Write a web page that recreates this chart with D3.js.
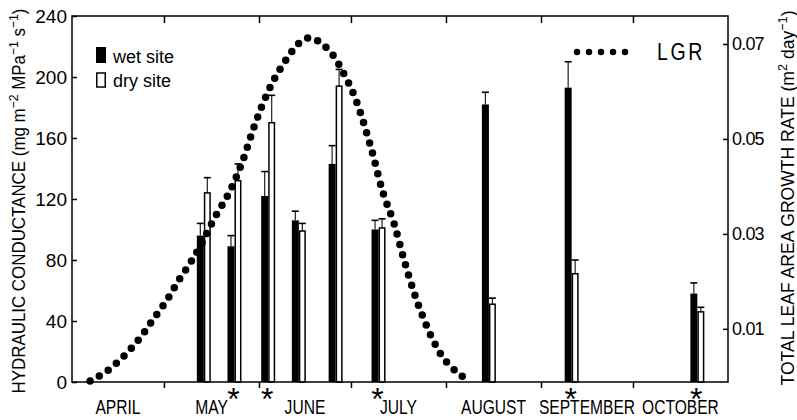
<!DOCTYPE html>
<html>
<head>
<meta charset="utf-8">
<script src="https://cdn.jsdelivr.net/npm/d3@7"></script>
<style>
  body { margin: 0; background: #fff; }
  svg { display: block; }
</style>
</head>
<body>
<script>
// ---------------- data ----------------
const months = ["APRIL", "MAY", "JUNE", "JULY", "AUGUST", "SEPTEMBER", "OCTOBER"];
const monthStarts = ["2000-04-01", "2000-05-01", "2000-06-01", "2000-07-01", "2000-08-01", "2000-09-01", "2000-10-01", "2000-11-01"];

const sampleDates = ["2000-05-14", "2000-05-24", "2000-06-04", "2000-06-14", "2000-06-26", "2000-07-10", "2000-08-15", "2000-09-11", "2000-10-22"];
const wetValues = [96, 89, 122, 106, 143, 100, 182, 193, 58];
const wetErrors = [8, 7, 16, 6, 12, 6, 8, 17, 7];
const dryValues = [124, 132, 170, 99, 194, 101, 51, 71, 46];
const dryErrors = [10, 11, 18, 5, 11, 6, 4, 9, 3];
const significant = [false, true, true, false, false, true, false, true, true];

const leftTicks = [0, 40, 80, 120, 160, 200, 240];
const rightTicks = [0.01, 0.03, 0.05, 0.07];

// LGR curve: days after 1 April, total leaf area growth rate (m2 day-1)
const lgrDays = [5.9, 11.4, 17.0, 22.2, 26.4, 31.0, 34.9, 38.8, 42.4, 46.3, 51.5, 55.5, 59.7, 63.9, 67.5, 71.8, 74.1, 77.0,
                 80.3, 85.1, 88.7, 91.7, 94.0, 97.9, 101.5, 105.0, 108.6, 112.9, 118.1, 121.7, 125.9, 128.8];
const lgrValues = [-0.0010, 0.0011, 0.0043, 0.0081, 0.0119, 0.0161, 0.0203, 0.0241, 0.0281, 0.0331, 0.0390, 0.0451, 0.0531, 0.0599, 0.0643, 0.0685, 0.0702, 0.0713,
                   0.0706, 0.0677, 0.0637, 0.0597, 0.0557, 0.0473, 0.0386, 0.0323, 0.0239, 0.0152, 0.0072, 0.0034, 0.0007, -0.0006];

// ---------------- layout ----------------
const W = 797, H = 420;
const X0 = 72, X1 = 728, Y0 = 382, Y1 = 16;
const BW = 7;            // bar width (px)
const FONT = "'Liberation Sans', Arial, sans-serif";

const parse = d3.utcParse("%Y-%m-%d");
const season0 = parse(monthStarts[0]);
const fromDays = d => new Date(season0.getTime() + d * 864e5);

const x = d3.scaleUtc().domain([parse(monthStarts[0]), parse(monthStarts[monthStarts.length - 1])]).range([X0, X1]);
const yL = d3.scaleLinear().domain([0, 240]).range([Y0, Y1]);
const yR = d3.scaleLinear().domain([-0.0012, 0.0759]).range([Y0, Y1]);

const svg = d3.select("body").append("svg").attr("width", W).attr("height", H)
  .style("font-family", FONT);

// ---------------- bars ----------------
const groups = sampleDates.map((d, i) => ({
  date: parse(d), wet: wetValues[i], wetErr: wetErrors[i],
  dry: dryValues[i], dryErr: dryErrors[i], sig: significant[i]
}));

const bars = svg.append("g");
function errBar(g, cx, v, e) {
  g.append("line").attr("x1", cx).attr("x2", cx).attr("y1", yL(v)).attr("y2", yL(v + e))
    .attr("stroke", "#222").attr("stroke-width", 1.2);
  g.append("line").attr("x1", cx - 3.5).attr("x2", cx + 3.5).attr("y1", yL(v + e)).attr("y2", yL(v + e))
    .attr("stroke", "#000").attr("stroke-width", 1.6);
}
groups.forEach(g => {
  const cx = x(g.date);
  errBar(bars, cx - BW / 2, g.wet, g.wetErr);
  errBar(bars, cx + BW / 2, g.dry, g.dryErr);
  bars.append("rect").attr("x", cx - BW).attr("y", yL(g.wet)).attr("width", BW).attr("height", yL(0) - yL(g.wet))
    .attr("fill", "#000");
  bars.append("rect").attr("x", cx + 0.75).attr("y", yL(g.dry)).attr("width", BW - 1.5).attr("height", yL(0) - yL(g.dry))
    .attr("fill", "#fff").attr("stroke", "#000").attr("stroke-width", 1.5);
});

// ---------------- LGR dotted curve ----------------
const lgrPts = lgrDays.map((d, i) => [x(fromDays(d)), yR(lgrValues[i])]);
svg.append("path")
  .attr("d", d3.line().curve(d3.curveCatmullRom.alpha(0.5))(lgrPts))
  .attr("fill", "none").attr("stroke", "#000").attr("stroke-width", 7.5)
  .attr("stroke-linecap", "round").attr("stroke-dasharray", "0 10.6");

// ---------------- frame & axes ----------------
svg.append("rect").attr("x", X0).attr("y", Y1).attr("width", X1 - X0).attr("height", Y0 - Y1)
  .attr("fill", "none").attr("stroke", "#000").attr("stroke-width", 1.5);

const inner = monthStarts.slice(1, -1).map(parse);
const axBottom = svg.append("g").attr("transform", `translate(0,${Y0})`)
  .call(d3.axisBottom(x).tickValues(inner).tickSize(6).tickSizeOuter(0).tickFormat(""));
const axTop = svg.append("g").attr("transform", `translate(0,${Y1})`)
  .call(d3.axisTop(x).tickValues(inner).tickSize(-7).tickSizeOuter(0).tickFormat(""));
const axLeft = svg.append("g").attr("transform", `translate(${X0},0)`)
  .call(d3.axisLeft(yL).tickValues(leftTicks).tickSize(-5).tickSizeOuter(0).tickPadding(5));
const axRight = svg.append("g").attr("transform", `translate(${X1},0)`)
  .call(d3.axisRight(yR).tickValues(rightTicks).tickSize(-5).tickSizeOuter(0).tickPadding(4).tickFormat(d3.format(".2f")));

[axBottom, axTop, axLeft, axRight].forEach(a => {
  a.select(".domain").remove();
  a.selectAll(".tick line").attr("stroke", "#000").attr("stroke-width", 1.5);
  a.attr("font-family", FONT);
});
axLeft.attr("font-size", 19).selectAll("text").attr("fill", "#000");
axRight.attr("font-size", 18).selectAll("text").attr("fill", "#000").attr("letter-spacing", -0.8);

// month labels (condensed lettering)
svg.append("g").selectAll("text").data(months).join("text")
  .attr("transform", (m, i) => `translate(${(x(parse(monthStarts[i])) + x(parse(monthStarts[i + 1]))) / 2},414) scale(0.8,1)`)
  .attr("text-anchor", "middle")
  .attr("font-size", 19.5)
  .text(d => d);

// significance asterisks
svg.append("g").selectAll("text").data(groups.filter(g => g.sig)).join("text")
  .attr("x", d => x(d.date) - 1).attr("y", 410)
  .attr("text-anchor", "middle").attr("font-size", 32)
  .text("*");

// ---------------- axis titles ----------------
function title(tx, ty, parts, size, len) {
  const t = svg.append("text").attr("transform", `translate(${tx},${ty}) rotate(-90)`)
    .attr("text-anchor", "middle").attr("font-size", size).attr("fill", "#000")
    .attr("textLength", len).attr("lengthAdjust", "spacingAndGlyphs");
  let shift = 0;
  parts.forEach(p => {
    if (typeof p === "string") {
      t.append("tspan").attr("dy", -shift).text(p);
      shift = 0;
    } else {
      t.append("tspan").attr("dy", -7).attr("font-size", size * 0.72).text(p.sup);
      shift = -7;
    }
  });
  return t;
}
title(25, 201, ["HYDRAULIC CONDUCTANCE  (mg m", {sup: "−2"}, " MPa", {sup: "−1"}, " s", {sup: "−1"}, ")"], 18.5, 385);
title(794, 198, ["TOTAL LEAF AREA GROWTH RATE (m", {sup: "2"}, " day", {sup: "−1"}, ")"], 18.5, 375);

// ---------------- legend ----------------
const lg = svg.append("g");
lg.append("rect").attr("x", 96).attr("y", 47).attr("width", 10).attr("height", 16).attr("fill", "#000");
lg.append("rect").attr("x", 96.75).attr("y", 73).attr("width", 8.5).attr("height", 14)
  .attr("fill", "#fff").attr("stroke", "#000").attr("stroke-width", 1.5);
lg.append("text").attr("x", 113).attr("y", 63).attr("font-size", 18).text("wet site");
lg.append("text").attr("x", 113).attr("y", 87).attr("font-size", 18).text("dry site");

svg.append("path").attr("d", d3.line()([[577, 52], [637, 52]]))
  .attr("stroke", "#000").attr("stroke-width", 6.5).attr("stroke-linecap", "round")
  .attr("stroke-dasharray", "0 12");
svg.append("text").attr("transform", "translate(657,60) scale(0.85,1)")
  .attr("font-size", 23).attr("letter-spacing", 3).text("LGR");
</script>
</body>
</html>
